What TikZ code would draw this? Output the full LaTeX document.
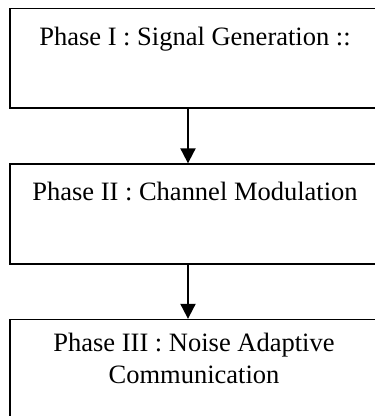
\documentclass[tikz,border=0pt]{standalone}
\usepackage{fontspec}
\setmainfont{Liberation Serif}
\usetikzlibrary{arrows.meta}
\begin{document}
\begin{tikzpicture}[x=1pt,y=-1pt,
  phasebox/.style={draw=black,line width=1.3pt,rectangle,minimum width=370pt,minimum height=100pt,inner sep=0pt},
  phasetext/.style={inner sep=0pt,anchor=base,align=center,font=\fontsize{26.5}{31.7}\selectfont},
  flowarrow/.style={line width=1.9pt,-{Triangle[width=15pt,length=15pt]}}]
\useasboundingbox (0,0) rectangle (375,416);
\clip (0,0) rectangle (375,416);
\fill[white] (0,0) rectangle (375,416);
\node[phasebox,minimum height=99.5pt] (b1) at (195,58.25) {};
\node[phasebox] (b2) at (195,214) {};
\node[phasebox] (b3) at (195,369.5) {};
\node[phasetext] (t1) at (195,45) {Phase I : Signal Generation ::};
\node[phasetext] (t2) at (195,200) {Phase II : Channel Modulation};
\node[phasetext] (t3) at (194,383.3) {Phase III : Noise Adaptive\\Communication};
\draw[flowarrow] ([xshift=-7pt]b1.south) -- ([xshift=-7pt]b2.north);
\draw[flowarrow] ([xshift=-7pt]b2.south) -- ([xshift=-7pt]b3.north);
\end{tikzpicture}
\end{document}
